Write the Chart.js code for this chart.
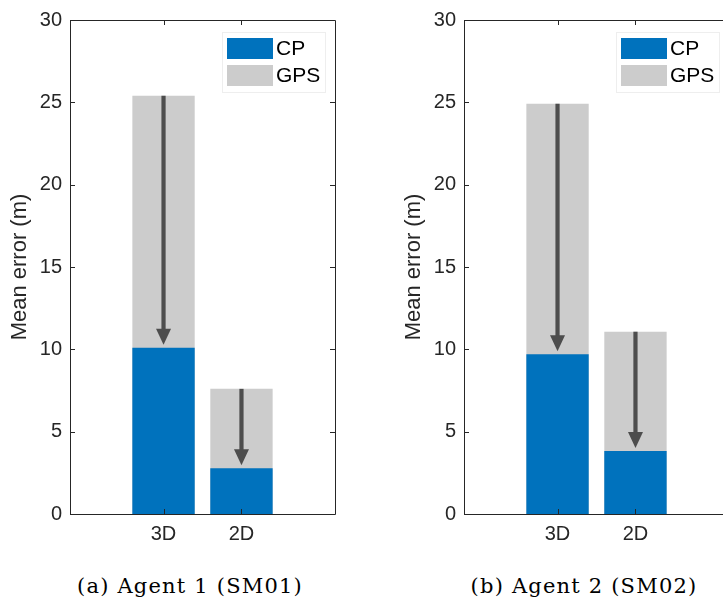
<!DOCTYPE html>
<html>
<head>
<meta charset="utf-8">
<script src="https://cdn.jsdelivr.net/npm/chart.js@4/dist/chart.umd.min.js"></script>
<style>
  html, body { margin: 0; padding: 0; background: #fff; }
  body { width: 723px; height: 607px; position: relative; overflow: hidden; }
  .panel { position: absolute; top: 0; width: 361px; height: 560px; }
  .caption {
    position: absolute; top: 576px; width: 300px; text-align: center;
    font-family: "DejaVu Serif", serif; font-size: 21px; line-height: 21px;
    letter-spacing: 1.2px; color: #000; white-space: nowrap;
  }
</style>
</head>
<body>
<div class="panel" style="left:0px"><canvas id="agent1"></canvas></div>
<div class="panel" style="left:394px"><canvas id="agent2"></canvas></div>
<div class="caption" style="left:40px">(a) Agent 1 (SM01)</div>
<div class="caption" style="left:434px">(b) Agent 2 (SM02)</div>
<script>
// Mean positioning error per fix type
const CATEGORIES = ['3D', '2D'];
const SERIES = ['CP', 'GPS'];
const Y_TICKS = [0, 5, 10, 15, 20, 25, 30];

const AGENT1_CP  = [10.10, 2.78];
const AGENT1_GPS = [25.40, 7.60];
const AGENT2_CP  = [9.70, 3.82];
const AGENT2_GPS = [24.92, 11.07];

const COLOR_CP = '#0072BD';
const COLOR_GPS = '#CCCCCC';
const AXIS_COLOR = '#262626';
const ARROW_COLOR = '#4D4D4D';
const SANS = '"Liberation Sans", Arial, sans-serif';

// Axes box with inward tick marks on all four sides, MATLAB style
const boxPlugin = {
  id: 'matlabBox',
  afterDraw(chart) {
    const { ctx, chartArea: a, scales } = chart;
    ctx.save();
    ctx.strokeStyle = AXIS_COLOR;
    ctx.lineWidth = 1;
    ctx.beginPath();
    ctx.rect(Math.round(a.left) + 0.5, Math.round(a.top) + 0.5,
             Math.round(a.right - a.left), Math.round(a.bottom - a.top));
    const tl = 5;
    scales.y.ticks.forEach(t => {
      const y = Math.round(scales.y.getPixelForValue(t.value)) + 0.5;
      ctx.moveTo(a.left, y); ctx.lineTo(a.left + tl, y);
      ctx.moveTo(a.right, y); ctx.lineTo(a.right - tl, y);
    });
    scales.x.ticks.forEach(t => {
      const x = Math.round(scales.x.getPixelForValue(t.value)) + 0.5;
      ctx.moveTo(x, a.bottom); ctx.lineTo(x, a.bottom - tl);
      ctx.moveTo(x, a.top); ctx.lineTo(x, a.top + tl);
    });
    ctx.stroke();
    ctx.restore();
  }
};

// Arrows from the GPS error down to the CP error of each bar
const arrowPlugin = {
  id: 'improvementArrows',
  afterDatasetsDraw(chart) {
    const { ctx, scales } = chart;
    const cp = chart.data.datasets[0].data;
    const gps = chart.data.datasets[1].data;
    ctx.save();
    ctx.fillStyle = ARROW_COLOR;
    ctx.strokeStyle = ARROW_COLOR;
    cp.forEach((pt, i) => {
      const x = scales.x.getPixelForValue(pt.x);
      const yTop = scales.y.getPixelForValue(gps[i].y);
      const yTip = scales.y.getPixelForValue(pt.y) - 3;
      const headLen = 16, headHalf = 7.5;
      ctx.lineWidth = 4.2;
      ctx.beginPath();
      ctx.moveTo(x, yTop);
      ctx.lineTo(x, yTip - headLen + 1);
      ctx.stroke();
      ctx.beginPath();
      ctx.moveTo(x - headHalf, yTip - headLen);
      ctx.lineTo(x + headHalf, yTip - headLen);
      ctx.lineTo(x, yTip);
      ctx.closePath();
      ctx.fill();
    });
    ctx.restore();
  }
};

// Legend boxed in the top-right corner of the axes
const insideLegend = {
  id: 'insideLegend',
  afterDraw(chart) {
    const { ctx, chartArea: a } = chart;
    const w = 103, h = 60;
    const bx = a.right - 10 - w, by = a.top + 12;
    ctx.save();
    ctx.fillStyle = '#fff';
    ctx.fillRect(bx, by, w, h);
    ctx.strokeStyle = '#EEEEEE';
    ctx.lineWidth = 1;
    ctx.strokeRect(bx + 0.5, by + 0.5, w, h);
    ctx.font = '21px ' + SANS;
    ctx.textBaseline = 'middle';
    chart.data.datasets.forEach((ds, i) => {
      const py = by + 6 + i * 27;
      ctx.fillStyle = ds.backgroundColor;
      ctx.fillRect(bx + 5, py, 46, 21);
      ctx.fillStyle = '#000';
      ctx.fillText(ds.label, bx + 54, py + 11.5);
    });
    ctx.restore();
  }
};

function points(values) {
  return values.map((v, i) => ({ x: i + 1, y: v }));
}

function makeChart(id, cpValues, gpsValues) {
  const tickFont = { family: SANS, size: 20 };
  return new Chart(document.getElementById(id), {
    type: 'bar',
    data: {
      datasets: [
        { label: SERIES[0], data: points(cpValues), backgroundColor: COLOR_CP,
          grouped: false, barPercentage: 1, categoryPercentage: 0.8 },
        { label: SERIES[1], data: points(gpsValues), backgroundColor: COLOR_GPS,
          grouped: false, barPercentage: 1, categoryPercentage: 0.8 }
      ]
    },
    options: {
      responsive: true,
      maintainAspectRatio: false,
      animation: false,
      layout: { padding: { top: 15, right: 26, left: 0, bottom: 0 } },
      plugins: { legend: { display: false }, tooltip: { enabled: false } },
      scales: {
        x: {
          type: 'linear', min: -0.2, max: 3.2, offset: false,
          grid: { display: false, drawTicks: false, offset: false },
          border: { display: false },
          afterBuildTicks: s => { s.ticks = CATEGORIES.map((c, i) => ({ value: i + 1 })); },
          afterFit: s => { s.height = 46; },
          ticks: {
            font: tickFont, color: AXIS_COLOR, padding: 8, maxRotation: 0,
            callback: v => CATEGORIES[v - 1]
          }
        },
        y: {
          min: 0, max: 30,
          grid: { display: false, drawTicks: false },
          border: { display: false },
          afterBuildTicks: s => { s.ticks = Y_TICKS.map(v => ({ value: v })); },
          afterFit: s => { s.width = 70; },
          ticks: { font: tickFont, color: AXIS_COLOR, padding: 8 },
          title: {
            display: true, text: 'Mean error (m)', color: AXIS_COLOR,
            font: { family: SANS, size: 22 },
            padding: { top: 7, bottom: 0 }
          }
        }
      }
    },
    plugins: [arrowPlugin, boxPlugin, insideLegend]
  });
}

makeChart('agent1', AGENT1_CP, AGENT1_GPS);
makeChart('agent2', AGENT2_CP, AGENT2_GPS);
</script>
</body>
</html>
